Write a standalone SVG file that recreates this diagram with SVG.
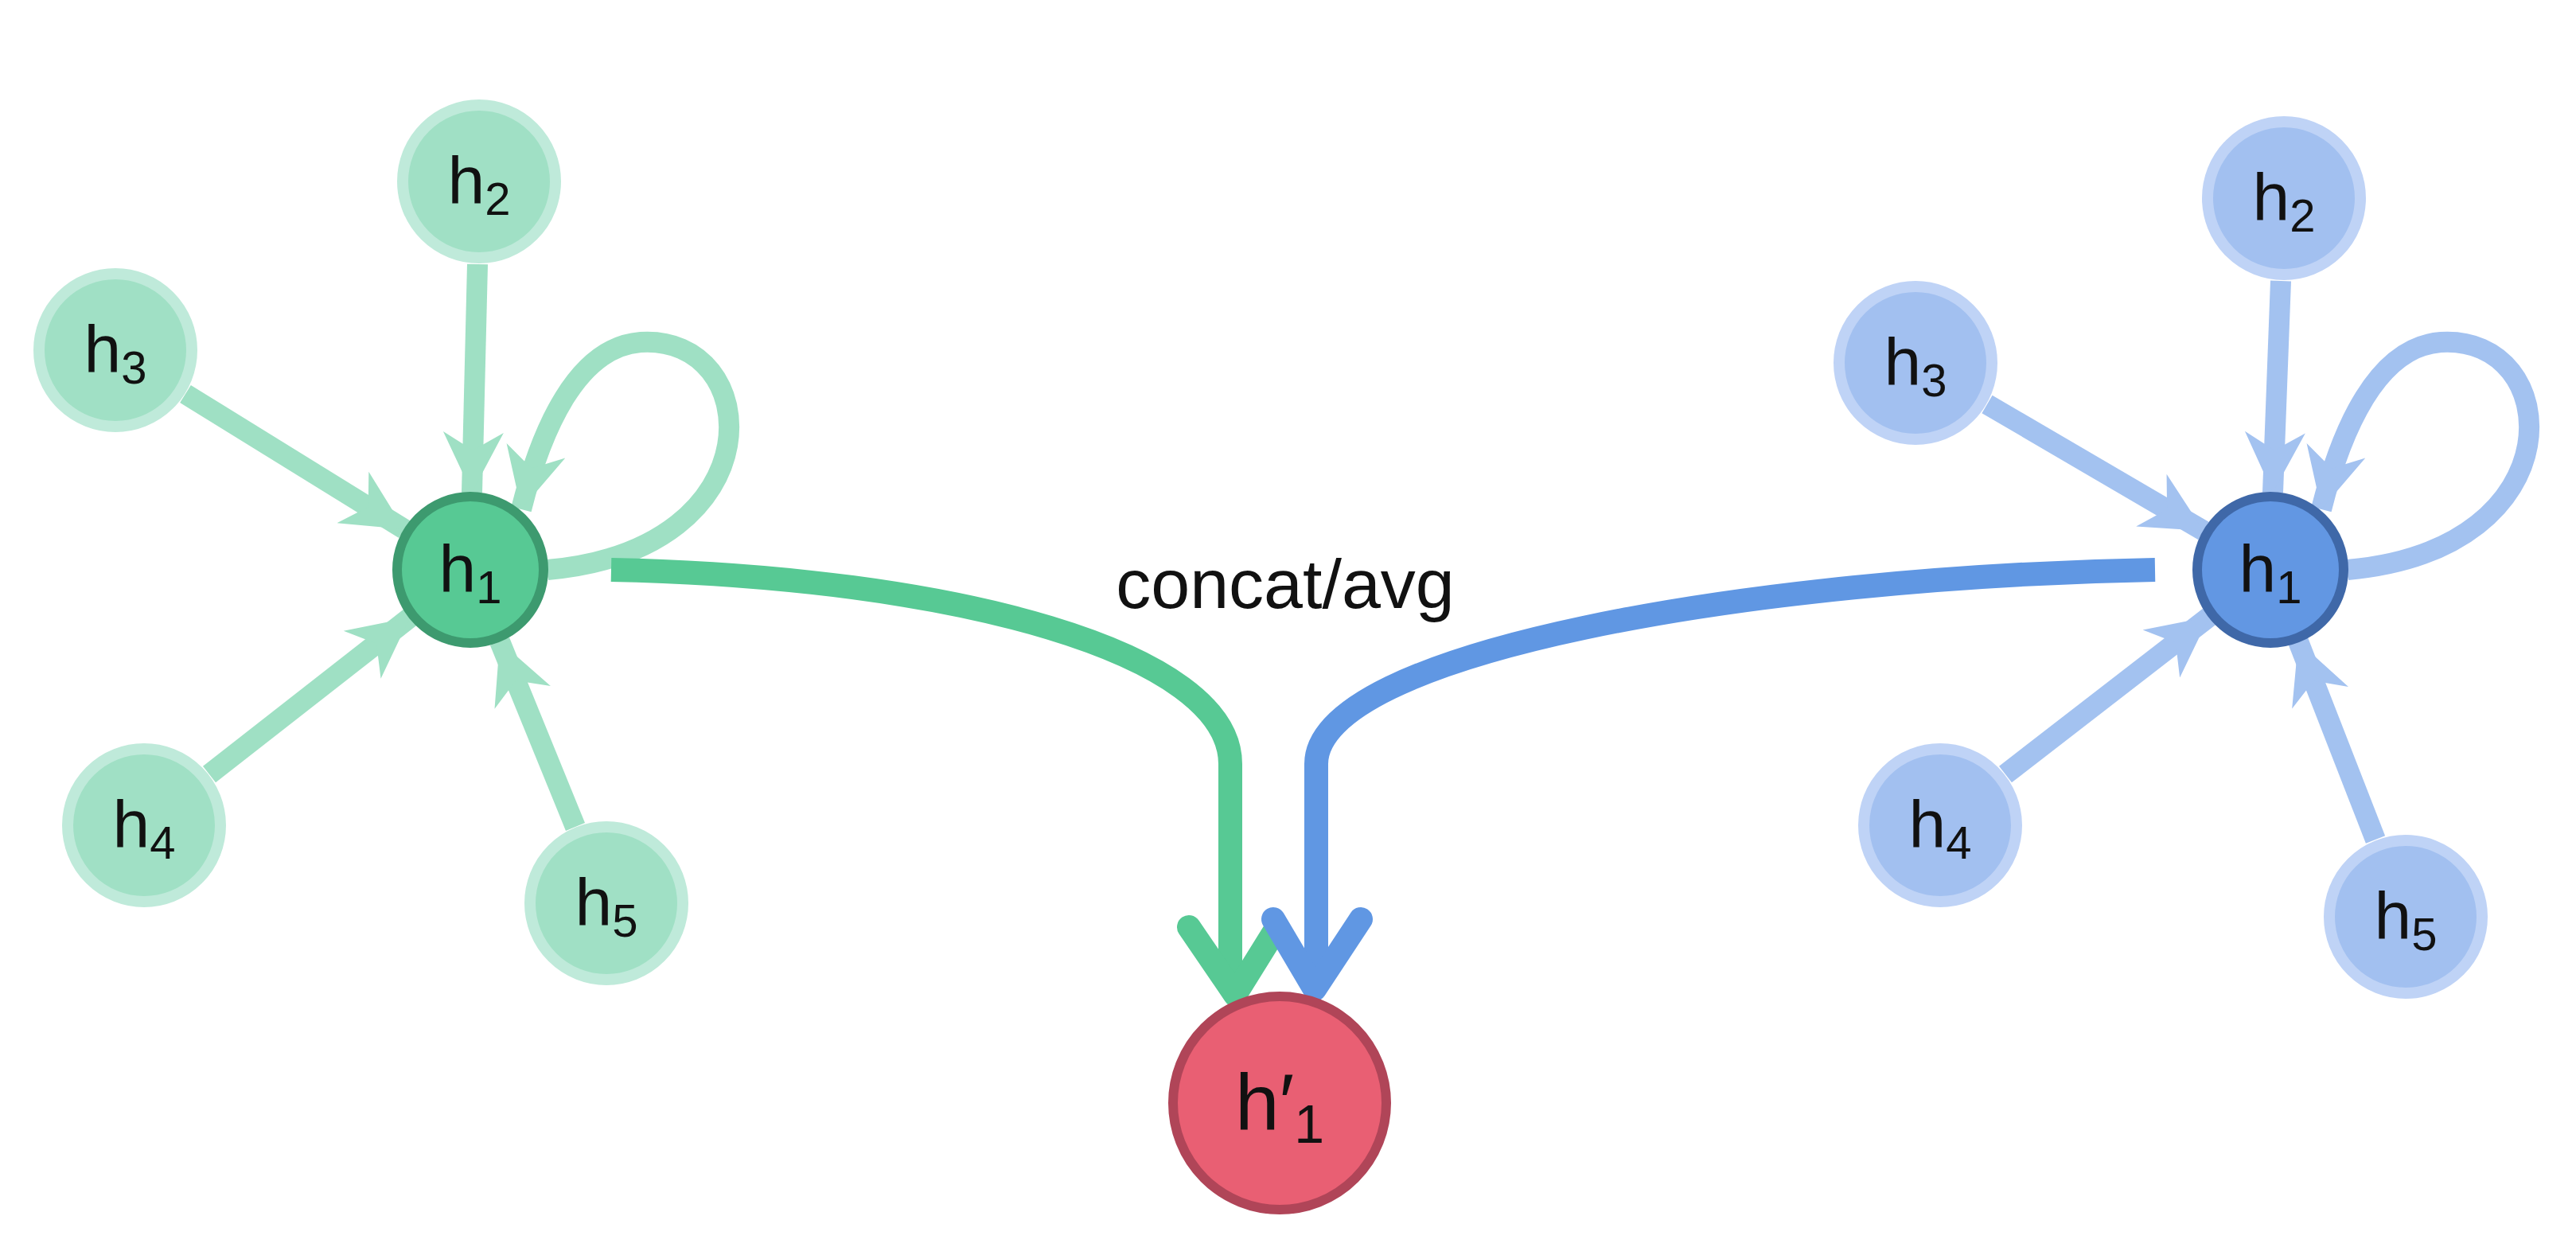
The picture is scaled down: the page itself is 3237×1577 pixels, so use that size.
<svg xmlns="http://www.w3.org/2000/svg" width="3237" height="1577" viewBox="0 0 3237 1577">
<style>
text{font-family:"Liberation Sans",Arial,sans-serif;fill:#111;text-anchor:middle}
.t{font-size:84px}.s{font-size:58px}
.gl{fill:#a0e0c5;stroke:#bfeada;stroke-width:14}
.bl{fill:#a2c0f0;stroke:#bfd3f6;stroke-width:14}
.ge{stroke:#9fe0c4;stroke-width:26;fill:none;marker-end:url(#ga)}
.be{stroke:#a3c2f0;stroke-width:26;fill:none;marker-end:url(#ba)}
</style>
<defs>
<marker id="ga" markerUnits="userSpaceOnUse" viewBox="0 0 10 10" markerWidth="95" markerHeight="76" refX="10" refY="5" orient="auto"><path d="M0,0 L10,5 L0,10 L3,5 z" fill="#9fe0c4"/></marker>
<marker id="ba" markerUnits="userSpaceOnUse" viewBox="0 0 10 10" markerWidth="95" markerHeight="76" refX="10" refY="5" orient="auto"><path d="M0,0 L10,5 L0,10 L3,5 z" fill="#a3c2f0"/></marker>
</defs>
<g id="connectors">
<line class="ge" x1="600" y1="332" x2="593" y2="619"/>
<line class="ge" x1="233" y1="495" x2="508" y2="665"/>
<line class="ge" x1="263" y1="973" x2="515" y2="776"/>
<line class="ge" x1="723" y1="1039" x2="628" y2="806"/>
<path class="ge" d="M688,716 C980,690 960,420 805,430 C725,436 680,540 655,640"/>
<line class="be" x1="2866" y1="353" x2="2856" y2="619"/>
<line class="be" x1="2497" y1="508" x2="2769" y2="667"/>
<line class="be" x1="2520" y1="973" x2="2776" y2="775"/>
<line class="be" x1="2985" y1="1055" x2="2888" y2="806"/>
<path class="be" d="M2950,716 C3242,690 3222,420 3067,430 C2987,436 2942,540 2917,640"/>
<path d="M768,716 C1200,725 1546,820 1546,960 L1546,1235" fill="none" stroke="#57c994" stroke-width="30"/>
<polyline points="1494,1165 1552,1250 1603,1168" fill="none" stroke="#57c994" stroke-width="30" stroke-linecap="round" stroke-linejoin="round"/>
<path d="M2708,716 C2200,725 1654,820 1654,960 L1654,1235" fill="none" stroke="#6097e3" stroke-width="30"/>
<polyline points="1600,1155 1652,1243 1710,1155" fill="none" stroke="#6097e3" stroke-width="30" stroke-linecap="round" stroke-linejoin="round"/>
<text x="1615" y="764" style="font-size:88px">concat/avg</text>
</g>
<g id="g_h2"><circle class="gl" cx="602" cy="228" r="96"/><text x="602" y="256"><tspan class="t">h</tspan><tspan class="s" dy="14">2</tspan></text></g>
<g id="g_h3"><circle class="gl" cx="145" cy="440" r="96"/><text x="145" y="468"><tspan class="t">h</tspan><tspan class="s" dy="14">3</tspan></text></g>
<g id="g_h4"><circle class="gl" cx="181" cy="1037" r="96"/><text x="181" y="1065"><tspan class="t">h</tspan><tspan class="s" dy="14">4</tspan></text></g>
<g id="g_h5"><circle class="gl" cx="762" cy="1135" r="96"/><text x="762" y="1163"><tspan class="t">h</tspan><tspan class="s" dy="14">5</tspan></text></g>
<g id="g_h1"><circle cx="591" cy="716" r="92" fill="#57c994" stroke="#3d9a6f" stroke-width="12"/><text x="591" y="744"><tspan class="t">h</tspan><tspan class="s" dy="14">1</tspan></text></g>
<g id="b_h2"><circle class="bl" cx="2870" cy="249" r="96"/><text x="2870" y="277"><tspan class="t">h</tspan><tspan class="s" dy="14">2</tspan></text></g>
<g id="b_h3"><circle class="bl" cx="2407" cy="456" r="96"/><text x="2407" y="484"><tspan class="t">h</tspan><tspan class="s" dy="14">3</tspan></text></g>
<g id="b_h4"><circle class="bl" cx="2438" cy="1037" r="96"/><text x="2438" y="1065"><tspan class="t">h</tspan><tspan class="s" dy="14">4</tspan></text></g>
<g id="b_h5"><circle class="bl" cx="3023" cy="1152" r="96"/><text x="3023" y="1180"><tspan class="t">h</tspan><tspan class="s" dy="14">5</tspan></text></g>
<g id="b_h1"><circle cx="2853" cy="716" r="92" fill="#6297e3" stroke="#3f68a8" stroke-width="12"/><text x="2853" y="744"><tspan class="t">h</tspan><tspan class="s" dy="14">1</tspan></text></g>
<g id="out"><circle cx="1608" cy="1386" r="134" fill="#e95f73" stroke="#b04558" stroke-width="12"/><text x="1608" y="1420"><tspan style="font-size:100px">h′</tspan><tspan style="font-size:68px" dy="16">1</tspan></text></g>
</svg>
